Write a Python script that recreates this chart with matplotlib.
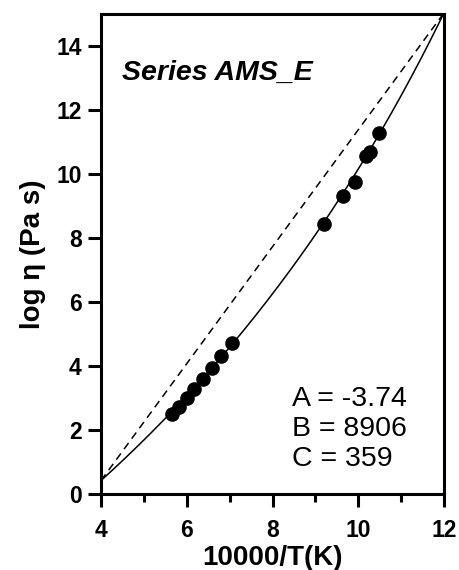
import numpy as np
import matplotlib
matplotlib.use("Agg")
import matplotlib.pyplot as plt
from matplotlib.ticker import MultipleLocator

# VFT parameters
A_vft = -3.74
B_vft = 8906
C_vft = 359

# measured data
inv_T = [5.66, 5.82, 6.00, 6.17, 6.37, 6.58, 6.79, 7.05,
         9.20, 9.65, 9.92, 10.18, 10.27, 10.48]
log_eta = [2.49, 2.71, 2.99, 3.28, 3.58, 3.93, 4.32, 4.71,
           8.44, 9.31, 9.76, 10.56, 10.70, 11.29]

xlim = (4, 12)
ylim = (0, 15)

plt.rcParams['font.family'] = ['Liberation Sans', 'DejaVu Sans']

fig = plt.figure(figsize=(4.59, 5.70), dpi=100)
ax = fig.add_axes([101/459, 1-494/570, (444-101)/459, (494-14)/570])

def vft(x):
    T = 10000.0 / x
    return A_vft + B_vft / (T - C_vft)

xs = np.linspace(xlim[0], xlim[1], 400)
ax.plot(xs, vft(xs), color='black', lw=1.1)
ends = np.array(xlim, dtype=float)
ax.plot(ends, vft(ends), color='black', lw=1.1, ls=(0, (5, 3.5)))
ax.plot(inv_T, log_eta, 'o', color='black', ms=9.5, mec='black')

ax.set_xlim(*xlim)
ax.set_ylim(*ylim)
ax.xaxis.set_major_locator(MultipleLocator(2))
ax.xaxis.set_minor_locator(MultipleLocator(1))
ax.yaxis.set_major_locator(MultipleLocator(2))

for s in ax.spines.values():
    s.set_linewidth(2.2)
ax.tick_params(which='major', direction='out', length=9.5, width=2.2, labelsize=16.5)
ax.tick_params(axis='x', which='major', pad=8.5)
ax.tick_params(axis='y', which='major', pad=4.5)
ax.tick_params(which='minor', direction='out', length=5.5, width=2.2)
for lab in ax.get_xticklabels() + ax.get_yticklabels():
    lab.set_fontweight('bold')

ax.set_xlabel('10000/T(K)', fontsize=20, fontweight='bold', labelpad=2)
ax.set_ylabel('log η (Pa s)', fontsize=20, fontweight='bold', labelpad=7)

ax.text(4.5, 13.15, 'Series AMS_E', fontsize=20.5, fontweight='bold', style='italic',
        ha='left', va='center')
ax.text(8.46, 2.03, 'A = -3.74\nB = 8906\nC = 359', fontsize=20.5, ha='left', va='center',
        linespacing=1.2)

fig.savefig('out.png', dpi=100)
